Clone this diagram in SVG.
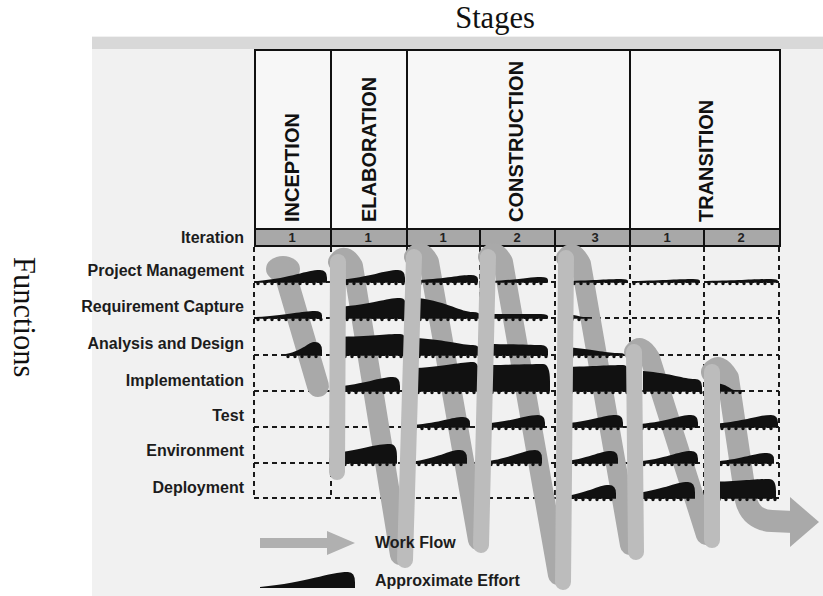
<svg xmlns="http://www.w3.org/2000/svg" width="823" height="596" viewBox="0 0 823 596">
  <style>
    .title { font-family: "Liberation Serif", "Times New Roman", serif; font-size: 30.5px; fill: #111; }
    .stage { font-family: "Liberation Sans", Arial, sans-serif; font-weight: bold; font-size: 20px; fill: #111; }
    .num { font-family: "Liberation Sans", Arial, sans-serif; font-weight: bold; font-size: 13px; fill: #222; text-anchor: middle; }
    .lbl { font-family: "Liberation Sans", Arial, sans-serif; font-weight: bold; font-size: 16px; fill: #1c1c1c; text-anchor: end; }
    .legend { font-family: "Liberation Sans", Arial, sans-serif; font-weight: bold; font-size: 16px; fill: #1c1c1c; }
    .frame { fill: none; stroke: #111; stroke-width: 2; }
    .dash { fill: none; stroke: #1a1a1a; stroke-width: 2; stroke-dasharray: 5 4; }
    .hump { fill: #111; }
    .base { fill: none; stroke: #111; stroke-width: 1.6; }
    .bead { fill: none; stroke: #111; stroke-width: 3.4; stroke-dasharray: 0 7; stroke-linecap: round; }
    .back { fill: none; stroke: #a9a9a9; stroke-width: 20; stroke-linecap: round; stroke-linejoin: round; }
    .front { fill: none; stroke: #bcbcbc; stroke-width: 16; stroke-linecap: round; }
  </style>

  <!-- paper -->
  <rect x="0" y="0" width="823" height="596" fill="#ffffff"/>
  <rect x="92" y="36" width="731" height="560" fill="#f1f1f1"/>
  <rect x="92" y="37" width="731" height="12" fill="#d8d8d8"/>

  <!-- axis titles -->
  <text class="title" x="495" y="28" text-anchor="middle">Stages</text>
  <text class="title" transform="translate(14,257) rotate(90)">Functions</text>

  <!-- stage header -->
  <g id="stages">
    <rect x="255" y="50" width="525" height="179" fill="#f7f7f7"/>
    <rect x="255" y="229" width="525" height="17" fill="#a8a8a8"/>
    <rect class="frame" x="255" y="50" width="525" height="196"/>
    <path class="frame" d="M331,50 V246 M407,50 V246 M630,50 V246 M255,229 H780 M480,229 V246 M555,229 V246 M704,229 V246"/>
    <g id="stage-inception"><text class="stage" transform="translate(299,222) rotate(-90)">INCEPTION</text></g>
    <g id="stage-elaboration"><text class="stage" transform="translate(376,222) rotate(-90)">ELABORATION</text></g>
    <g id="stage-construction"><text class="stage" transform="translate(523,222) rotate(-90)">CONSTRUCTION</text></g>
    <g id="stage-transition"><text class="stage" transform="translate(713,222) rotate(-90)">TRANSITION</text></g>
    <g id="iterations">
      <text class="num" x="292" y="242">1</text>
      <text class="num" x="368" y="242">1</text>
      <text class="num" x="443" y="242">1</text>
      <text class="num" x="517" y="242">2</text>
      <text class="num" x="595" y="242">3</text>
      <text class="num" x="667" y="242">1</text>
      <text class="num" x="741" y="242">2</text>
    </g>
  </g>

  <!-- function rows -->
  <g id="row-labels">
    <text class="lbl" x="244" y="243">Iteration</text>
    <g id="fn-project-management"><text class="lbl" x="244" y="276">Project Management</text></g>
    <g id="fn-requirement-capture"><text class="lbl" x="244" y="312">Requirement Capture</text></g>
    <g id="fn-analysis-design"><text class="lbl" x="244" y="349">Analysis and Design</text></g>
    <g id="fn-implementation"><text class="lbl" x="244" y="386">Implementation</text></g>
    <g id="fn-test"><text class="lbl" x="244" y="421">Test</text></g>
    <g id="fn-environment"><text class="lbl" x="244" y="456">Environment</text></g>
    <g id="fn-deployment"><text class="lbl" x="244" y="493">Deployment</text></g>
  </g>

  <!-- dashed grid of functions x iterations -->
  <g id="grid">
    <path class="dash" d="M254,282 H779 M254,318 H779 M254,355 H779 M254,391 H779 M254,427 H779 M254,463 H779 M254,498 H779"/>
    <path class="dash" d="M254,247 V498 M331,247 V498 M407,247 V498 M480,247 V498 M555,247 V498 M630,247 V498 M704,247 V498 M779,247 V498"/>
  </g>

  <!-- work flow coil: rear strands -->
  <g id="workflow-back">
    <ellipse cx="283" cy="269" rx="17" ry="13" fill="#a9a9a9"/>
    <path class="back" d="M284,270 L318,386" style="stroke-width:22"/>
    <path class="back" d="M338,262 Q345,252 353,266 L400,555"/>
    <path class="back" d="M414,257 Q421,247 429,262 L478,540"/>
    <path class="back" d="M488,257 Q495,247 503,262 L558,575"/>
    <path class="back" d="M566,258 Q573,248 581,264 L630,545"/>
    <path class="back" d="M634,352 Q641,342 650,358 L706,535"/>
    <path class="back" d="M712,372 Q719,362 728,378 L746,500 Q751,520 772,521 L794,522" style="stroke-width:22"/>
    <polygon points="790,497 819,522 790,547" fill="#a9a9a9"/>
  </g>

  <!-- effort per function and iteration -->
  <g id="effort">
    <g id="effort-project-management">
      <path class="hump" d="M258,282 V281 C292.5,277.7 306.2,270 320,270 Q327,270 327,277.8 V282Z"/>
      <path class="hump" d="M338,282 V280 C371.5,277 384.6,270 398,270 Q405,270 405,277.8 V282Z"/>
      <path class="hump" d="M418,282 V280 C448,278.5 459,275 471,275 Q478,275 478,279.5 V282Z"/>
      <path class="hump" d="M490,282 V281 C519,279.8 529.4,277 541,277 Q548,277 548,280.2 V282Z"/>
      <path class="hump" d="M565,282 V281 C596.5,280.4 608.4,279 621,279 Q628,279 628,281 V282Z"/>
      <path class="hump" d="M632,282 V281 C666,280.4 679.4,279 693,279 Q700,279 700,281 V282Z"/>
      <path class="hump" d="M707,282 V281 C742.5,280.4 756.8,279 771,279 Q778,279 778,281 V282Z"/>
    </g>
    <g id="effort-requirement-capture">
      <path class="hump" d="M256,318 V317 C289,315.2 301.8,311 315,311 Q322,311 322,315.5 V318Z"/>
      <path class="hump" d="M338,318 V307 C372.5,304.3 386.2,298 400,298 Q407,298 407,311 V318Z"/>
      <path class="hump" d="M418,318 V298 C449,302.2 460.6,312 473,312 Q480,312 480,315.9 V318Z"/>
      <path class="hump" d="M490,318 V314 C519,314 529.4,314 541,314 Q548,314 548,316.6 V318Z"/>
      <path class="hump" d="M563,318 V314 C577.5,314.9 579.2,317 585,317 Q592,317 592,317.6 V318Z"/>
    </g>
    <g id="effort-analysis-design">
      <path class="hump" d="M286,355 V354 C304,350.4 307.8,342 315,342 Q322,342 322,350.5 V355Z"/>
      <path class="hump" d="M336,355 V337 C371.5,336.1 385.8,334 400,334 Q407,334 407,347.6 V355Z"/>
      <path class="hump" d="M417,355 V338 C448.5,340.1 460.4,345 473,345 Q480,345 480,351.5 V355Z"/>
      <path class="hump" d="M488,355 V344 C518,344.3 529,345 541,345 Q548,345 548,351.5 V355Z"/>
      <path class="hump" d="M563,355 V347 C593.5,348.8 604.8,353 617,353 Q624,353 624,354.3 V355Z"/>
    </g>
    <g id="effort-implementation">
      <path class="hump" d="M333,391 V387 C366.5,384 379.6,377 393,377 Q400,377 400,386.1 V391Z"/>
      <path class="hump" d="M416,391 V368 C448,366.2 460.2,362 473,362 Q480,362 480,380.9 V391Z"/>
      <path class="hump" d="M490,391 V365 C520,364.7 531,364 543,364 Q550,364 550,381.6 V391Z"/>
      <path class="hump" d="M562,391 V367 C596,366.4 609.4,365 623,365 Q630,365 630,381.9 V391Z"/>
      <path class="hump" d="M643,391 V371 C672.5,373.4 683.2,379 695,379 Q702,379 702,386.8 V391Z"/>
      <path class="hump" d="M717,391 V383 C729.5,385.1 730,390 735,390 Q742,390 742,390.6 V391Z"/>
    </g>
    <g id="effort-test">
      <path class="hump" d="M413,427 V425 C441.5,422.6 451.6,417 463,417 Q470,417 470,423.5 V427Z"/>
      <path class="hump" d="M483,427 V424 C514,421.3 525.6,415 538,415 Q545,415 545,422.8 V427Z"/>
      <path class="hump" d="M560,427 V424 C591.5,421.3 603.4,415 616,415 Q623,415 623,422.8 V427Z"/>
      <path class="hump" d="M640,427 V424 C669,421.3 679.4,415 691,415 Q698,415 698,422.8 V427Z"/>
      <path class="hump" d="M713,427 V424 C745.5,421.3 758,415 771,415 Q778,415 778,422.8 V427Z"/>
    </g>
    <g id="effort-environment">
      <path class="hump" d="M329,463 C329,457 331,454 336,453 C363,449 376.4,444 390,444 Q397,444 397,456.4 V463Z"/>
      <path class="hump" d="M410,463 V462 C438.5,458.4 448.6,450 460,450 Q467,450 467,458.5 V463Z"/>
      <path class="hump" d="M482,463 V462 C512,458.4 523,450 535,450 Q542,450 542,458.5 V463Z"/>
      <path class="hump" d="M560,463 V462 C589,458.7 599.4,451 611,451 Q618,451 618,458.8 V463Z"/>
      <path class="hump" d="M635,463 V462 C666.5,458.7 678.4,451 691,451 Q698,451 698,458.8 V463Z"/>
      <path class="hump" d="M712,463 V462 C743,459.3 754.6,453 767,453 Q774,453 774,459.5 V463Z"/>
    </g>
    <g id="effort-deployment">
      <path class="hump" d="M560,498 V497 C588,493.4 597.8,485 609,485 Q616,485 616,493.5 V498Z"/>
      <path class="hump" d="M630,498 V494 C662.5,490.4 675,482 688,482 Q695,482 695,492.4 V498Z"/>
      <path class="hump" d="M710,498 V482 C743,481.1 755.8,479 769,479 Q776,479 776,491.4 V498Z"/>
    </g>
    <path class="base" d="M255,282 H327 M338,282 H405 M418,282 H478 M490,282 H548 M565,282 H628 M632,282 H700 M707,282 H778
      M255,318 H322 M338,318 H407 M418,318 H480 M490,318 H548 M563,318 H592
      M286,355 H322 M336,355 H407 M417,355 H480 M488,355 H548 M563,355 H624
      M333,391 H400 M416,391 H480 M490,391 H550 M562,391 H630 M643,391 H702 M717,391 H742
      M413,427 H470 M483,427 H545 M560,427 H623 M640,427 H698 M713,427 H778
      M329,463 H397 M410,463 H467 M482,463 H542 M560,463 H618 M635,463 H698 M712,463 H774
      M560,498 H616 M630,498 H695 M710,498 H776"/>
    <path class="bead" d="M258,283.5 H327 M340,283.5 H405 M420,283.5 H478 M492,283.5 H548 M567,283.5 H628 M634,283.5 H700 M709,283.5 H778
      M258,319.5 H322 M340,319.5 H407 M420,319.5 H480 M492,319.5 H548 M565,319.5 H592
      M288,356.5 H322 M338,356.5 H407 M419,356.5 H480 M490,356.5 H548 M565,356.5 H624
      M335,392.5 H400 M418,392.5 H480 M492,392.5 H550 M564,392.5 H630 M645,392.5 H702 M719,392.5 H742
      M415,428.5 H470 M485,428.5 H545 M562,428.5 H623 M642,428.5 H698 M715,428.5 H778
      M331,464.5 H397 M412,464.5 H467 M484,464.5 H542 M562,464.5 H618 M637,464.5 H698 M714,464.5 H774
      M562,499.5 H616 M632,499.5 H695 M712,499.5 H776"/>
  </g>

  <!-- work flow coil: front strands -->
  <g id="workflow-front">
    <path class="front" d="M337,472 L338,262"/>
    <path class="front" d="M405,560 L414,257"/>
    <path class="front" d="M481,545 L488,257"/>
    <path class="front" d="M563,582 L566,258"/>
    <path class="front" d="M636,552 L634,352"/>
    <path class="front" d="M712,540 L712,372"/>
  </g>

  <!-- key -->
  <g id="legend">
    <g id="legend-workflow">
      <polygon points="260,538 327,538 327,531 355,543 327,555 327,548 260,548" fill="#b0b0b0"/>
      <text class="legend" x="375" y="548">Work Flow</text>
    </g>
    <g id="legend-effort">
      <path class="hump" d="M260,588 V587 C307.5,582.5 329,572 348,572 Q355,572 355,582.4 V588Z"/>
      <text class="legend" x="375" y="586">Approximate Effort</text>
    </g>
  </g>
</svg>
